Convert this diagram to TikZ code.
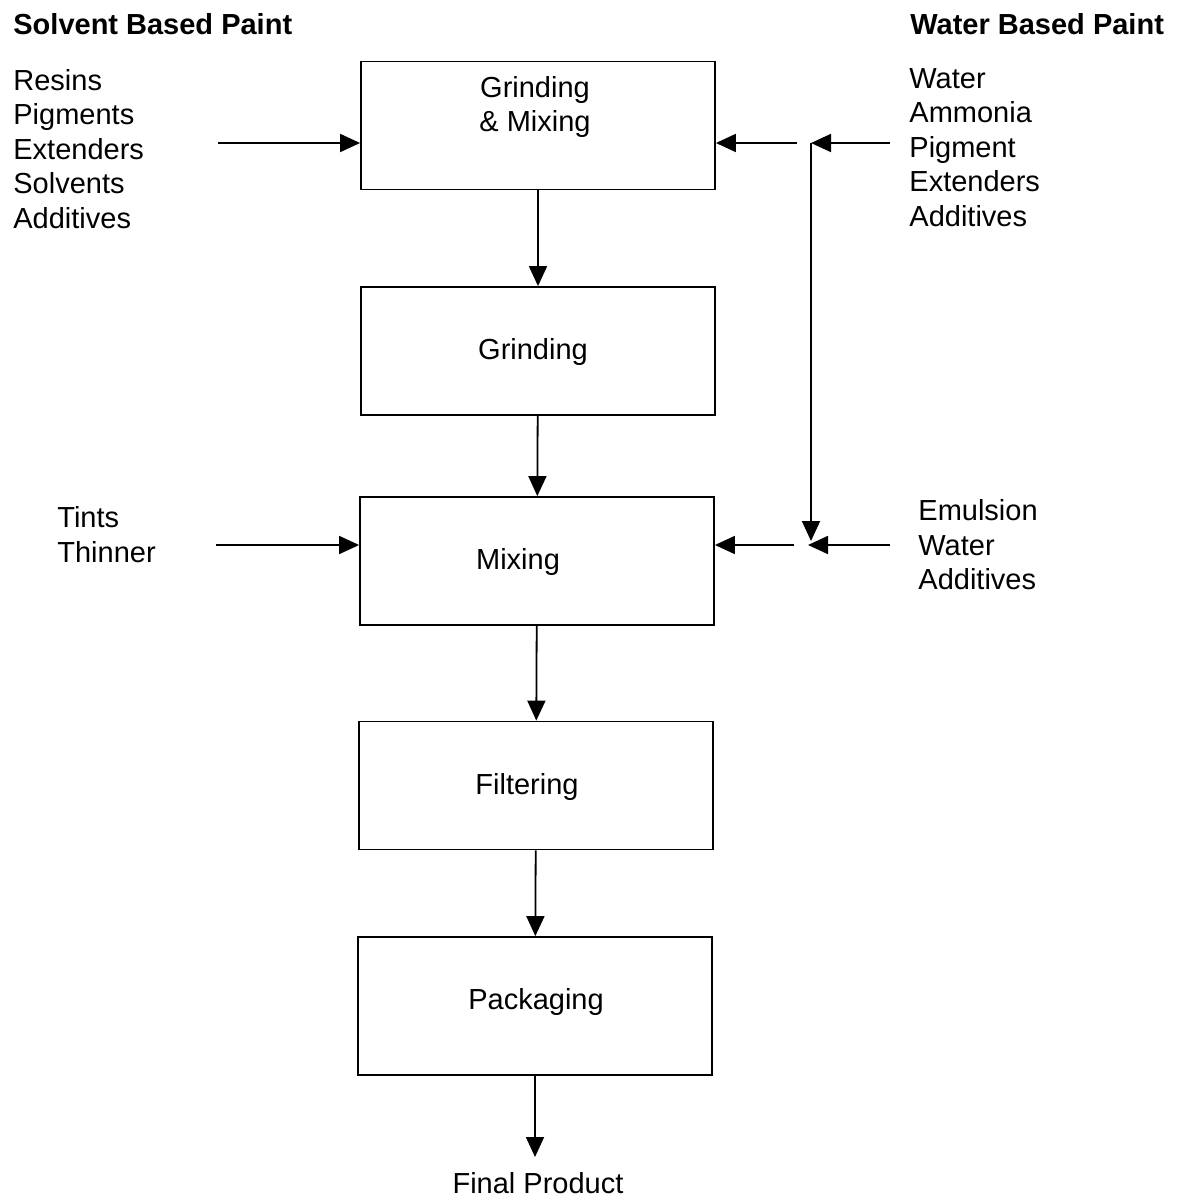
\documentclass[tikz,border=0pt]{standalone}
\usepackage{fontspec}
\setmainfont{Liberation Sans}
\usetikzlibrary{arrows.meta}
\begin{document}
\begin{tikzpicture}[x=0.5pt,y=-0.5pt,
  stepbox/.style={draw, line width=0.9pt, minimum width=177pt, minimum height=64pt, inner sep=0pt},
  txt/.style={font=\fontsize{14.5}{17.25}\selectfont, inner sep=0pt, align=left},
  ctxt/.style={txt, align=center},
  head/.style={txt, font=\fontsize{14.5}{17.25}\selectfont\bfseries, anchor=west},
  flow/.style={line width=0.9pt, -{Triangle[length=10pt,width=9pt]}},
  plain/.style={line width=0.9pt},
]
\useasboundingbox (0,0) rectangle (1187,1199);

% process steps
\node[stepbox] (g1) at (538,125.5) {};
\node[ctxt] (g1t) at (535,107) {Grinding\\\& Mixing};
\node[stepbox] (g2) at (538,351) {};
\node[ctxt] (g2t) at (533,352) {Grinding};
\node[stepbox] (g3) at (537,561) {};
\node[ctxt] (g3t) at (518,562) {Mixing};
\node[stepbox] (g4) at (536,785.5) {};
\node[ctxt] (g4t) at (527,787) {Filtering};
\node[stepbox, minimum height=69pt] (g5) at (535,1006) {};
\node[ctxt] (g5t) at (536,1002) {Packaging};
\node[ctxt] (fp) at (538,1183) {Final Product};

% headings and raw materials
\node[head] (sb) at (13,24) {Solvent Based Paint};
\node[head] (wb) at (910,24) {Water Based Paint};
\node[txt, anchor=west] (sin) at (13,149) {Resins\\Pigments\\Extenders\\Solvents\\Additives};
\node[txt, anchor=west] (tin) at (57,534.5) {Tints\\Thinner};
\node[txt, anchor=west] (win) at (909,147.5) {Water\\Ammonia\\Pigment\\Extenders\\Additives};
\node[txt, anchor=west] (ein) at (918,545) {Emulsion\\Water\\Additives};

% main flow
\draw[flow] (g1) -- (g2);
\draw[flow] (g2) -- (g3);
\draw[flow] (g3) -- (g4);
\draw[flow] (g4) -- (g5);
\coordinate (fend) at (535,1157);
\draw[flow] (g5.south) -- (fend);

% solvent side feeds
\coordinate (s1) at (218,143);
\coordinate (s2) at (216,545);
\draw[flow] (s1) -- (g1.west |- s1);
\draw[flow] (s2) -- (g3.west |- s2);

% water side feeds
\coordinate (w1) at (890,143);
\coordinate (j1) at (811,143);
\coordinate (k1) at (797,143);
\coordinate (w2) at (890,545);
\coordinate (j2) at (808,545);
\coordinate (j2v) at (811,541);
\coordinate (k2) at (794,545);
\draw[flow] (w1) -- (j1);
\draw[flow] (j1) -- (j2v);
\draw[flow] (k1) -- (g1.east |- k1);
\draw[flow] (w2) -- (j2);
\draw[flow] (k2) -- (g3.east |- k2);
\end{tikzpicture}
\end{document}
